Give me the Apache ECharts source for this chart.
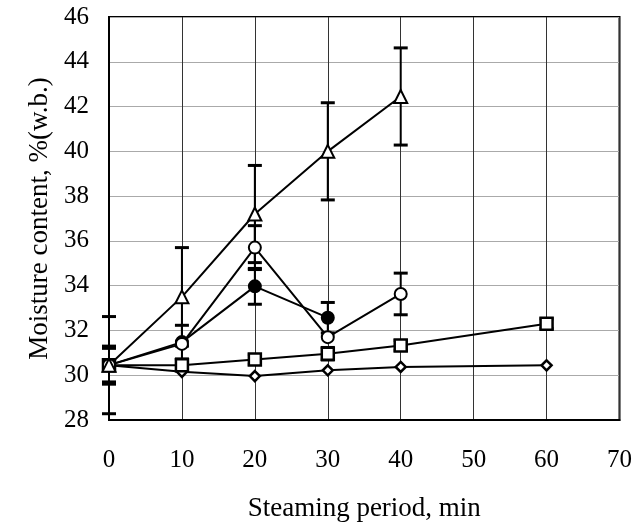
<!DOCTYPE html>
<html><head><meta charset="utf-8">
<script src="https://cdn.jsdelivr.net/npm/echarts@6/dist/echarts.min.js"></script>
<style>html,body{margin:0;padding:0;background:#fff}#c{width:635px;height:527px}</style>
</head><body><div id="c"></div>
<script>
const xTri = [0, 10, 20, 30, 40];
const yTri = [30.45, 33.5, 37.2, 40.0, 42.45];
const eTri = [2.17, 2.2, 2.17, 2.17, 2.17];
const xOpen = [0, 10, 20, 30, 40];
const yOpen = [30.45, 31.4, 35.7, 31.7, 33.63];
const eOpen = [0.85, 0.0, 0.98, 0.0, 0.93];
const xFill = [0, 10, 20, 30];
const yFill = [30.45, 31.48, 33.97, 32.57];
const eFill = [0.75, 0.75, 0.8, 0.68];
const xSq = [0, 10, 20, 30, 40, 60];
const ySq = [30.45, 30.45, 30.7, 30.96, 31.33, 32.3];
const eSq = [0.25, 0.25, 0.22, 0.28, 0.22, 0.22];
const xDia = [0, 10, 20, 30, 40, 60];
const yDia = [30.45, 30.15, 29.96, 30.22, 30.37, 30.44];

const font = 'Liberation Serif';
function pts(xs, ys){ return xs.map((x,i)=>[x, ys[i]]); }
function errs(xs, ys, es){ return xs.map((x,i)=>[x, ys[i]-es[i], ys[i]+es[i]]).filter((d,i)=>es[i]>0); }

function errSeries(data){
  return {
    type:'custom', z:1, silent:true,
    data: data,
    renderItem: function(params, api){
      const lo = api.coord([api.value(0), api.value(1)]);
      const hi = api.coord([api.value(0), api.value(2)]);
      const w = 7;
      return {type:'group', children:[
        {type:'line', shape:{x1:lo[0],y1:lo[1],x2:hi[0],y2:hi[1]}, style:{stroke:'#000', lineWidth:2}},
        {type:'line', shape:{x1:lo[0]-w,y1:lo[1],x2:lo[0]+w,y2:lo[1]}, style:{stroke:'#000', lineWidth:3}},
        {type:'line', shape:{x1:hi[0]-w,y1:hi[1],x2:hi[0]+w,y2:hi[1]}, style:{stroke:'#000', lineWidth:3}}
      ]};
    }
  };
}
function lineSeries(data, symbol, size, fill, bw){
  return {
    type:'line', z:3, data:data, symbol:symbol, symbolSize:size,
    lineStyle:{color:'#000', width:2},
    itemStyle:{color:fill, borderColor:'#000', borderWidth:bw || 2},
    showAllSymbol:true, animation:false
  };
}
const chart = echarts.init(document.getElementById('c'));
chart.setOption({
  animation:false,
  backgroundColor:'#fff',
  grid:{left:109, top:17, right:15, bottom:105, show:true, borderColor:'#000', borderWidth:2, backgroundColor:'transparent'},
  xAxis:{type:'value', min:0, max:70, interval:10,
    name:'Steaming period, min', nameLocation:'middle', nameGap:75,
    nameTextStyle:{fontFamily:font, fontSize:27, color:'#000'},
    axisLine:{lineStyle:{color:'#000', width:2}},
    axisTick:{show:false},
    axisLabel:{fontFamily:font, fontSize:25, color:'#000', margin:28},
    splitLine:{lineStyle:{color:'#333', width:1}}
  },
  yAxis:{type:'value', min:28, max:46, interval:2,
    name:'Moisture content, %(w.b.)', nameLocation:'middle', nameGap:52,
    nameTextStyle:{fontFamily:font, fontSize:27, color:'#000'},
    axisLine:{lineStyle:{color:'#000', width:2}},
    axisTick:{show:false},
    axisLabel:{fontFamily:font, fontSize:25, color:'#000', margin:20},
    splitLine:{lineStyle:{color:'#aaa', width:1}}
  },
  series:[
    errSeries(errs(xTri, yTri, eTri)),
    errSeries(errs(xOpen, yOpen, eOpen)),
    errSeries(errs(xFill, yFill, eFill)),
    errSeries(errs(xSq, ySq, eSq)),
    lineSeries(pts(xDia, yDia), 'diamond', 10, '#fff', 2.5),
    lineSeries(pts(xSq, ySq), 'rect', 12, '#fff', 2.5),
    lineSeries(pts(xFill, yFill), 'circle', 12, '#000'),
    lineSeries(pts(xOpen, yOpen), 'circle', 12, '#fff'),
    lineSeries(pts(xTri, yTri), 'triangle', 13, '#fff')
  ]
});
</script></body></html>
